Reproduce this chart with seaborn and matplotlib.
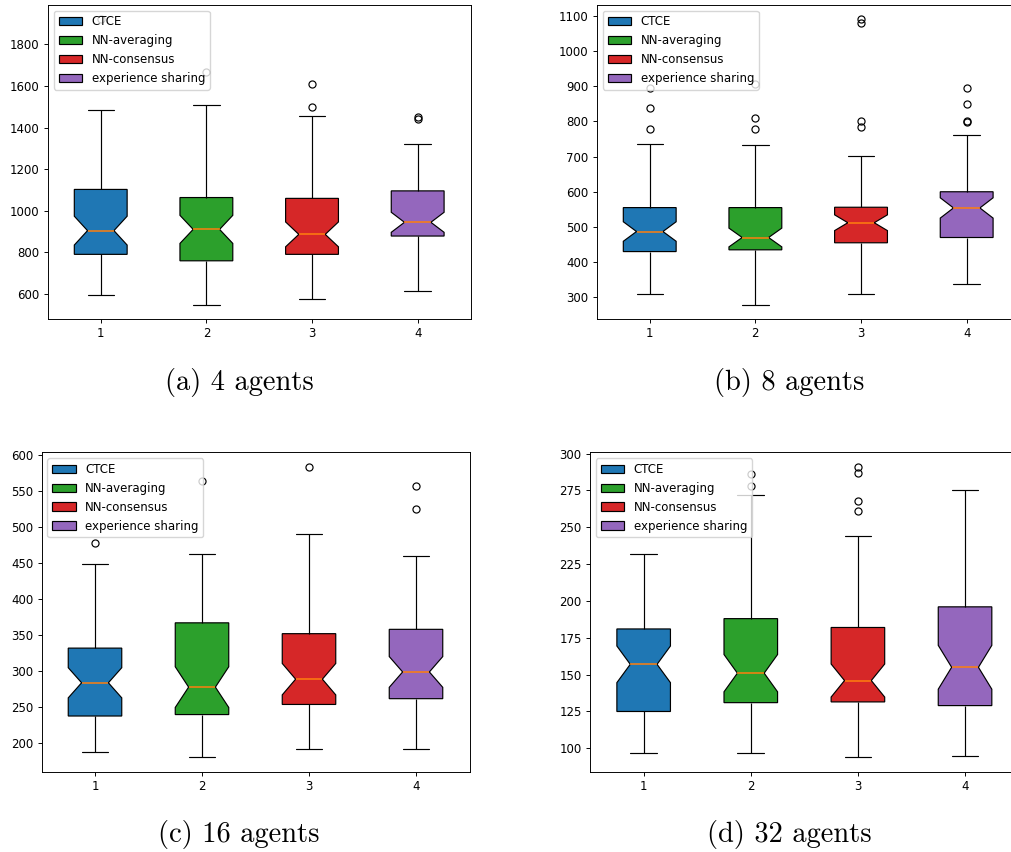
import numpy as np
import pandas as pd
import matplotlib
matplotlib.use("Agg")
import matplotlib.pyplot as plt
from matplotlib.patches import Patch
import seaborn as sns

# panels and series
agent_counts = [4, 8, 16, 32]
panel_letters = ["a", "b", "c", "d"]
methods = ["CTCE", "NN-averaging", "NN-consensus", "experience sharing"]
x_labels = ["1", "2", "3", "4"]
method_colors = ["#1f77b4", "#2ca02c", "#d62728", "#9467bd"]

# box statistics: one row per panel, one entry per method
whisker_low = [
    [594, 549, 578, 613],
    [309, 279, 309, 337],
    [188, 181, 192, 192],
    [97, 97, 94, 95],
]
quartile_1 = [
    [791, 760, 791, 879],
    [430, 435, 455, 470],
    [238, 240, 254, 262],
    [125, 131, 131.5, 129],
]
medians = [
    [905, 911, 887, 945],
    [487, 470, 512, 554],
    [284, 278, 289, 299],
    [157, 151, 146, 155],
]
quartile_3 = [
    [1103, 1064, 1060, 1096],
    [555, 555, 556, 600],
    [332, 367, 352, 358],
    [181, 188, 182, 196],
]
whisker_high = [
    [1487, 1511, 1458, 1323],
    [736, 733, 702, 761],
    [448, 462, 490, 460],
    [232, 272, 244, 275],
]
outliers = [
    [[1922], [1666], [1498, 1609], [1441, 1449]],
    [[779, 837, 895], [779, 811, 907], [784, 800, 1079, 1091], [799, 801, 849, 895]],
    [[477], [563], [583], [525, 557]],
    [[], [278, 286], [261, 268, 287, 291], []],
]
runs_per_box = 50

# layout in pixels of the 1011x852 canvas (left, top, right, bottom)
W, H = 1011, 852
axes_px = [
    (47.9, 4.7, 470.5, 319.0),
    (596.9, 4.7, 1019.5, 319.0),
    (41.5, 452.3, 469.5, 771.7),
    (590.1, 452.3, 1018.6, 771.7),
]
caption_px = [(239.5, 390), (789, 390), (239, 842), (789.5, 842)]


def expand_box(lo, q1, med, q3, hi, fliers, n=runs_per_box):
    # rebuild a list of runs that has the same quartiles, whiskers and outliers
    counts = [1, 13, 12, n - 27 - len(fliers), 1]
    return list(np.repeat([lo, q1, med, q3, hi], counts)) + list(fliers)


def panel_frame(p):
    rows = []
    for m, name in enumerate(methods):
        vals = expand_box(whisker_low[p][m], quartile_1[p][m], medians[p][m],
                          quartile_3[p][m], whisker_high[p][m], outliers[p][m])
        for v in vals:
            rows.append({"label": x_labels[m], "method": name, "value": v})
    return pd.DataFrame(rows)


sns.set_theme(style="ticks", rc={
    "axes.edgecolor": "black",
    "axes.linewidth": 0.68,
    "axes.grid": False,
    "xtick.color": "black",
    "ytick.color": "black",
    "xtick.major.size": 3.0,
    "ytick.major.size": 3.0,
    "xtick.major.width": 0.68,
    "ytick.major.width": 0.68,
    "xtick.major.pad": 3.0,
    "ytick.major.pad": 3.0,
    "font.size": 8.5,
    "xtick.labelsize": 8.5,
    "ytick.labelsize": 8.5,
    "legend.fontsize": 8.5,
    "text.color": "black",
    "axes.labelcolor": "black",
})
plt.rcParams["font.family"] = ["DejaVu Sans"]

fig = plt.figure(figsize=(W / 100, H / 100), dpi=100)

for p in range(len(agent_counts)):
    l, t, r, b = axes_px[p]
    ax = fig.add_axes([l / W, 1 - b / H, (r - l) / W, (b - t) / H])
    df = panel_frame(p)
    sns.boxplot(
        data=df, x="label", y="value", hue="method", order=x_labels, hue_order=methods,
        palette=method_colors, saturation=1, width=0.5, dodge=False, notch=True,
        linecolor="black", linewidth=0.85, fliersize=5.1,
        medianprops={"color": "#ff7f0e", "linewidth": 1.1, "zorder": 3},
        flierprops={"marker": "o", "markerfacecolor": "none",
                    "markeredgecolor": "black", "markeredgewidth": 0.85},
        legend=False, ax=ax,
    )
    ax.set_xlabel("")
    ax.set_ylabel("")
    handles = [Patch(facecolor=c, edgecolor="black", linewidth=0.85, label=n)
               for c, n in zip(method_colors, methods)]
    ax.legend(handles=handles, loc="upper left", frameon=True, framealpha=0.8,
              edgecolor="0.8", fancybox=True, fontsize=8.5)

    cx, cy = caption_px[p]
    fig.text(cx / W, 1 - cy / H, f"({panel_letters[p]}) {agent_counts[p]} agents",
             ha="center", va="baseline", fontsize=20.5, family="cmr10")

fig.savefig("out.png", dpi=100)
